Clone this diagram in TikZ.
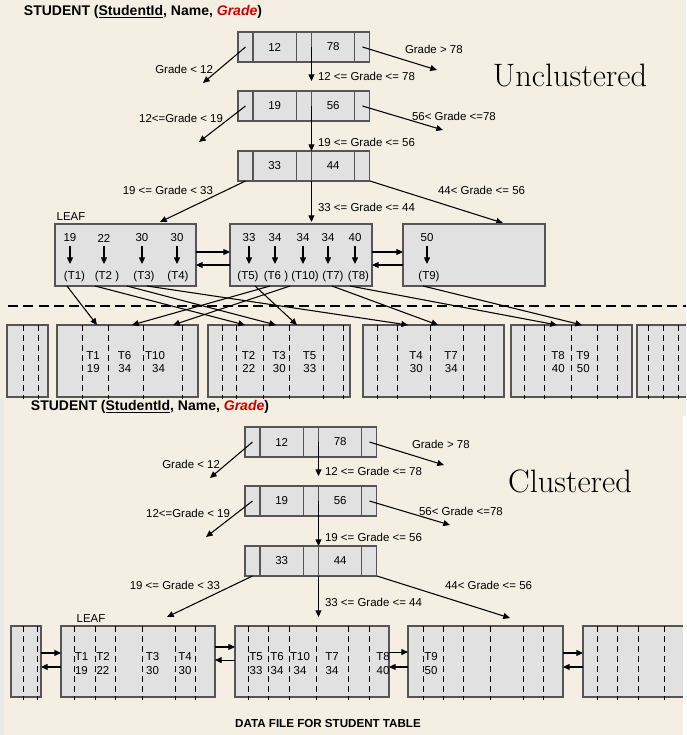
\documentclass[tikz,border=0pt]{standalone}
\usepackage{fontspec}
\setsansfont{Liberation Sans}
\usetikzlibrary{arrows.meta,positioning,fit,calc}

\definecolor{paper}{RGB}{245,238,226}
\definecolor{cellgray}{RGB}{225,225,225}
\definecolor{edgegray}{RGB}{85,85,85}
\definecolor{gradered}{RGB}{204,0,0}
\definecolor{stripgray}{RGB}{232,232,232}

\begin{document}
\begin{tikzpicture}[
    x=0.75pt, y=-0.75pt,
    line width=0.8pt,
    >={Triangle[length=5pt,width=4.5pt]},
    every node/.style={font=\sffamily\fontsize{8.6}{10.3}\selectfont, inner sep=0pt, outer sep=0pt},
    ptrcell/.style={draw=edgegray, fill=cellgray, minimum width=11.25pt, minimum height=22.5pt},
    keycell/.style={ptrcell, minimum width=32.6pt},
    block/.style={draw=edgegray, fill=cellgray},
    slotline/.style={dash pattern=on 4.5pt off 3pt, line width=0.6pt},
    cutline/.style={dash pattern=on 7.5pt off 4pt, line width=1.4pt},
    title/.style={font=\sffamily\bfseries\fontsize{10.5}{12}\selectfont},
    bigword/.style={font=\rmfamily\fontsize{24.3}{28}\selectfont}
]

\useasboundingbox (0,0) rectangle (686,735);
\clip (0,0) rectangle (686,735);
\fill[paper] (0,0) rectangle (686,735);

% Index levels (same tree in both halves)
\foreach \tr/\dx/\dy in {u/0/0, c/7/395}{
  \begin{scope}[shift={(\dx,\dy)}]
    \node[title] (\tr head) at (143,12) {STUDENT (\underline{StudentId}, Name, \textcolor{gradered}{\itshape Grade})};

    \node[ptrcell, anchor=north west] (\tr1p1) at (238,32) {};
    \node[keycell, right=0pt of \tr1p1] (\tr1k1) {12};
    \node[ptrcell, right=0pt of \tr1k1] (\tr1p2) {};
    \node[keycell, right=0pt of \tr1p2] (\tr1k2) {78};
    \node[ptrcell, right=0pt of \tr1k2] (\tr1p3) {};

    \node[ptrcell, anchor=north west] (\tr2p1) at (238,91) {};
    \node[keycell, right=0pt of \tr2p1] (\tr2k1) {19};
    \node[ptrcell, right=0pt of \tr2k1] (\tr2p2) {};
    \node[keycell, right=0pt of \tr2p2] (\tr2k2) {56};
    \node[ptrcell, right=0pt of \tr2k2] (\tr2p3) {};

    \node[ptrcell, anchor=north west] (\tr3p1) at (238,151) {};
    \node[keycell, right=0pt of \tr3p1] (\tr3k1) {33};
    \node[ptrcell, right=0pt of \tr3k1] (\tr3p2) {};
    \node[keycell, right=0pt of \tr3p2] (\tr3k2) {44};
    \node[ptrcell, right=0pt of \tr3k2] (\tr3p3) {};

    % Key ranges
    \node[anchor=east] (\tr1lt) at (213,69) {Grade < 12};
    \node[anchor=west] (\tr1lm) at (318,76) {12 <= Grade <= 78};
    \node[anchor=west] (\tr1lr) at (405,49) {Grade > 78};
    \node[anchor=east] (\tr2lt) at (223,118) {12<=Grade < 19};
    \node[anchor=west] (\tr2lm) at (318,142) {19 <= Grade <= 56};
    \node[anchor=west] (\tr2lr) at (412,116) {56< Grade <=78};
    \node[anchor=east] (\tr3lt) at (213,190) {19 <= Grade < 33};
    \node[anchor=west] (\tr3lm) at (318,207) {33 <= Grade <= 44};
    \node[anchor=west] (\tr3lr) at (438,190) {44< Grade <= 56};

    \draw[->] (\tr1p1.center) -- ++(-42.5,36);
    \draw[->] (\tr1k2.west) -- ++(0,34);
    \draw[->] (\tr1p3.center) -- ++(74.5,23);
    \draw[->] (\tr2p1.center) -- ++(-46.5,36);
    \draw[->] (\tr2k2.west) -- (\tr3k2.north west);
    \draw[->] (\tr2p3.center) -- ++(80.5,24);
    \draw[->] (\tr3p1.south) -- ++(-85.5,41);
    \draw[->] (\tr3k2.south west) -- ++(0,41);
    \draw[->] (\tr3p3.south east) -- ++(133,42);
  \end{scope}
}

\node[bigword, anchor=base] (unclab) at (570,87) {Unclustered};
\node[bigword, anchor=base] (clulab) at (570,492) {Clustered};

% Unclustered leaves
\node (uleaf) at (71,217) {LEAF};
\node[block, fit={(55,224) (196,286)}] (ul1) {};
\node[block, fit={(230,224) (372,286)}] (ul2) {};
\node[block, fit={(403,224) (545,286)}] (ul3) {};

\draw[->] ([yshift=2.25pt]ul1.east) -- ([yshift=2.25pt]ul2.west);
\draw[->] ([yshift=-7.5pt]ul2.west) -- ([yshift=-7.5pt]ul1.east);
\draw[->] ([yshift=2.25pt]ul2.east) -- ([yshift=2.25pt]ul3.west);
\draw[->] ([yshift=-7.5pt]ul3.west) -- ([yshift=-7.5pt]ul2.east);

\foreach \i/\kx/\kv/\tx/\tid in {1/70/19/74.5/(T1), 2/104/22/107/(T2\ ), 3/142/30/144/(T3), 4/177/30/178/(T4),
    5/249/33/248/(T5), 6/275/34/276/(T6\ ), 10/303/34/305/(T10), 7/328/34/333/(T7), 8/355/40/358.5/(T8), 9/427/50/429/(T9)}{
  \node (uk\i) at (\kx,238) {\kv};
  \node (ut\i) at (\tx,277) {\tid};
  \draw[->, shorten <=3pt, shorten >=5.7pt] (uk\i.south) -- (uk\i.south |- ut\i.north);
}

% Unclustered data file
\draw[cutline] (8,306) -- (686,306);
\node[block, fit={(7,325) (48,397)}] (up0) {};
\node[block, fit={(57,325) (198,397)}] (up1) {};
\node[block, fit={(208,325) (350,397)}] (up2) {};
\node[block, fit={(363,325) (504,397)}] (up3) {};
\node[block, fit={(511,325) (632,397)}] (up4) {};
\node[block, fit={(637,325) (700,397)}] (up5) {};
\foreach \x in {23,38,82,108,143,182,222,236,263,289,323,343,377,397,430,463,484,524,544,571,597,617,648,663,678}
  \draw[slotline] (\x,325) -- (\x,399);
\foreach \i/\x/\val in {1/93/19, 6/124.5/34, 10/155/34, 2/248.5/22, 3/279/30, 5/309.5/33, 4/416/30, 7/451/34, 8/558/40, 9/583/50}
  \node[align=right] (ud\i) at (\x,362) {T\i\\\val};

\foreach \i/\ds/\pg/\dt in {1/-7.5/up1/40, 2/-12/up2/37, 3/-17/up2/68, 4/-31/up3/45, 5/7/up2/89,
    6/-6/up1/75, 10/-15/up1/116, 7/-1/up3/75, 8/-8.5/up4/46, 9/-6/up4/71}
  \draw[->] ($(ut\i.south |- ul1.south)+(\ds,0)$) -- ($(\pg.north west)+(\dt,0)$);

% Clustered: leaves are the data pages
\fill[stripgray] (0,399) rectangle (4,735);
\node (cleaf) at (91,619) {LEAF};
\node[block, fit={(11,626) (41,697)}] (cp0) {};
\node[block, fit={(61,626) (215,697)}] (cp1) {};
\node[block, fit={(235,626) (389,697)}] (cp2) {};
\node[block, fit={(408,626) (563,697)}] (cp3) {};
\node[block, fit={(583,626) (700,697)}] (cp4) {};
\foreach \x in {23,37,74,95,115,142,175,195,248,268,289,316,348,369,423,443,463,490,523,543,597,617,638,664}
  \draw[slotline] (\x,626) -- (\x,700);
\foreach \i/\x/\val in {1/81.5/19, 2/103/22, 3/152.5/30, 4/185/30, 5/256/33, 6/277/34, 10/300/34, 7/332/34, 8/383/40, 9/431/50}
  \node[align=center] (cd\i) at (\x,663.5) {T\i\\\val};

\draw[->] ([yshift=6.4pt]cp0.east) -- ([yshift=6.4pt]cp1.west);
\draw[->] ([yshift=-4.1pt]cp1.west) -- ([yshift=-4.1pt]cp0.east);
\draw[->] ([yshift=10.9pt]cp1.east) -- ([yshift=10.9pt]cp2.west);
\draw[->] ([yshift=1.1pt]cp2.west) -- ([yshift=1.1pt]cp1.east);
\draw[->] ([yshift=7.1pt]cp2.east) -- ([yshift=7.1pt]cp3.west);
\draw[->] ([yshift=-4.1pt]cp3.west) -- ([yshift=-4.1pt]cp2.east);
\draw[->] ([yshift=6.4pt]cp3.east) -- ([yshift=6.4pt]cp4.west);
\draw[->] ([yshift=-4.1pt]cp4.west) -- ([yshift=-4.1pt]cp3.east);

\node[title, font=\sffamily\bfseries\fontsize{8.7}{10}\selectfont] (dfile) at (328,723) {DATA FILE FOR STUDENT TABLE};
\fill[white] (683,416) rectangle (686,735);

\end{tikzpicture}
\end{document}
